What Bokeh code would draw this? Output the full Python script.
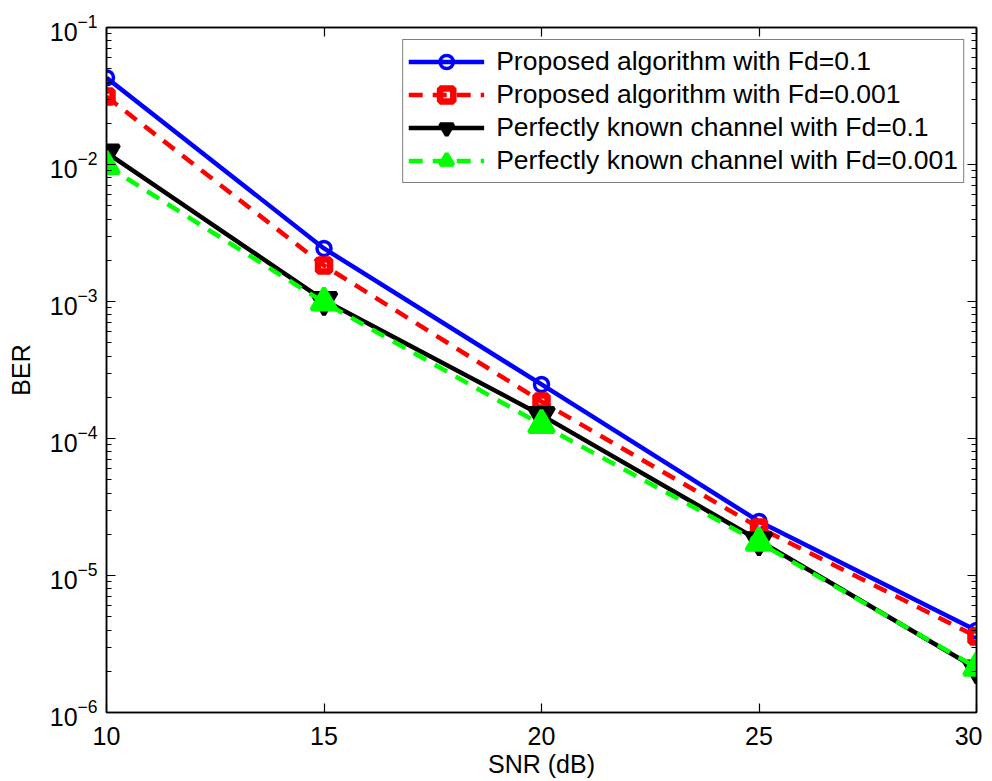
from bokeh.plotting import figure
from bokeh.models import (LogAxis, LinearAxis, FixedTicker, LogTicker, Range1d, Legend,
                          LegendItem, CustomJSTickFormatter)
from bokeh.embed import file_html
from bokeh.resources import INLINE

snr = [10, 15, 20, 25, 30]
ber_prop_01 = [4.3e-2, 2.44e-3, 2.48e-4, 2.48e-5, 3.97e-6]
ber_prop_0001 = [3.13e-2, 1.83e-3, 1.86e-4, 2.24e-5, 3.59e-6]
ber_perf_01 = [1.22e-2, 1.02e-3, 1.48e-4, 1.80e-5, 2.09e-6]
ber_perf_0001 = [9.8e-3, 9.85e-4, 1.26e-4, 1.74e-5, 2.13e-6]
x_ticks = [10, 15, 20, 25, 30]
names = ["Proposed algorithm with Fd=0.1", "Proposed algorithm with Fd=0.001",
         "Perfectly known channel with Fd=0.1", "Perfectly known channel with Fd=0.001"]

FONT = "Liberation Sans"
FS = "25px"

p = figure(frame_width=870, frame_height=685, y_axis_type="log",
           x_range=Range1d(10, 30), y_range=Range1d(1e-6, 1e-1),
           output_backend="svg", toolbar_location=None,
           min_border_left=106, min_border_top=27, min_border_right=6, min_border_bottom=40)
p.background_fill_color = "white"
p.border_fill_color = "white"
p.outline_line_color = "black"
p.outline_line_width = 1.5
p.xgrid.visible = False
p.ygrid.visible = False

xa = p.xaxis[0]
xa.ticker = FixedTicker(ticks=x_ticks)
xa.axis_label = "SNR (dB)"
ya = p.yaxis[0]
ya.ticker = LogTicker(num_minor_ticks=10)
ya.axis_label = "BER"
for ax in (xa, ya):
    ax.axis_label_text_font = FONT
    ax.axis_label_text_font_size = FS
    ax.axis_label_text_font_style = "normal"
    ax.axis_label_text_color = "black"
    ax.major_label_text_font = FONT
    ax.major_label_text_font_size = FS
    ax.major_label_text_color = "black"
    ax.major_tick_in = 9
    ax.major_tick_out = 0
    ax.minor_tick_in = 5
    ax.minor_tick_out = 0
    ax.axis_line_width = 1.5
    ax.major_tick_line_width = 1.2
    ax.minor_tick_line_width = 1.2
xa.minor_tick_line_color = None
xa.axis_label_standoff = 2
xa.major_label_standoff = 14
ya.axis_label_standoff = 12
ya.major_label_standoff = 9

blank = CustomJSTickFormatter(code="return ''")
top = LinearAxis(ticker=FixedTicker(ticks=x_ticks), major_tick_in=9, major_tick_out=0,
                 minor_tick_line_color=None, formatter=blank, major_label_standoff=0,
                 axis_line_width=1.5, major_tick_line_width=1.2)
right = LogAxis(ticker=LogTicker(num_minor_ticks=10), major_tick_in=9, major_tick_out=0,
                minor_tick_in=5, minor_tick_out=0, formatter=blank, major_label_standoff=0,
                axis_line_width=1.5, major_tick_line_width=1.2, minor_tick_line_width=1.2)
p.add_layout(top, "above")
p.add_layout(right, "right")

LW = 4.5
l1 = p.line(snr, ber_prop_01, line_color="#0000ff", line_width=LW)
m1 = p.scatter(snr, ber_prop_01, marker="circle", size=14, line_color="#0000ff",
               line_width=3.5, fill_alpha=0)
l2 = p.line(snr, ber_prop_0001, line_color="#ff0000", line_width=LW, line_dash="14 10")
m2 = p.scatter(snr, ber_prop_0001, marker="square", size=12, line_color="#ff0000",
               line_width=6.5, fill_alpha=0)
l3 = p.line(snr, ber_perf_01, line_color="black", line_width=LW)
m3 = p.scatter(snr, ber_perf_01, marker="inverted_triangle", size=25, line_color="black",
               line_width=4, fill_color="black")
l4 = p.line(snr, ber_perf_0001, line_color="#00ff00", line_width=LW, line_dash="14 10")
m4 = p.scatter(snr, ber_perf_0001, marker="triangle", size=25, line_color="#00ff00",
               line_width=4, fill_color="#00ff00")

legend = Legend(items=[LegendItem(label=names[0], renderers=[l1, m1]),
                       LegendItem(label=names[1], renderers=[l2, m2]),
                       LegendItem(label=names[2], renderers=[l3, m3]),
                       LegendItem(label=names[3], renderers=[l4, m4])],
                location="top_right")
legend.label_text_font = FONT
legend.label_text_font_size = "26.5px"
legend.label_text_color = "black"
legend.glyph_width = 76
legend.glyph_height = 33
legend.label_height = 33
legend.spacing = 0
legend.padding = 5
legend.margin = 12
legend.label_standoff = 12
legend.border_line_color = "black"
legend.border_line_width = 1.2
legend.background_fill_alpha = 1.0
p.add_layout(legend)

open("out.html", "w").write(file_html(p, INLINE))
